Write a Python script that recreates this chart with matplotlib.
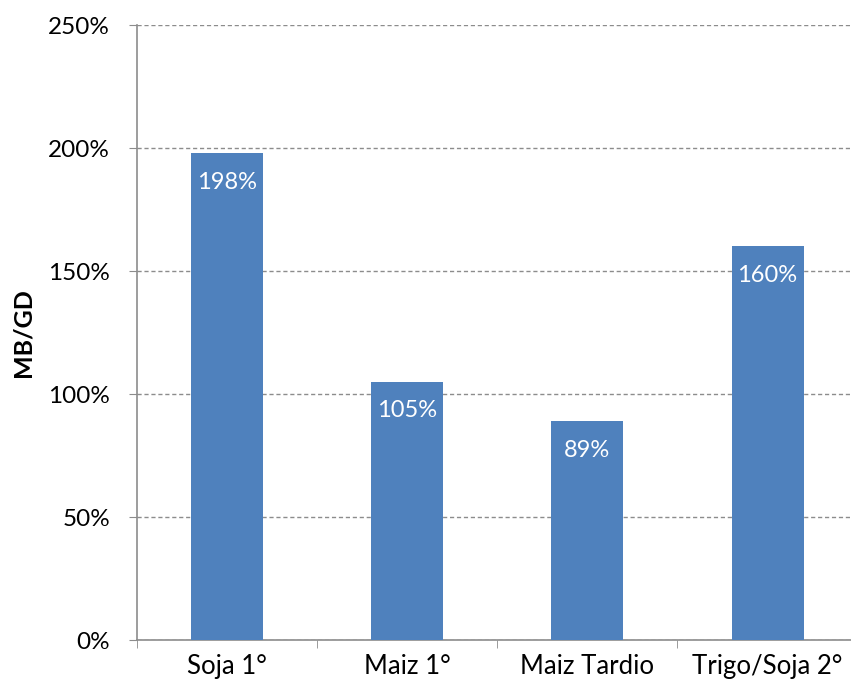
import matplotlib
matplotlib.use("Agg")
import matplotlib.pyplot as plt
from matplotlib.ticker import FuncFormatter

plt.rcParams['font.family'] = ['Lato', 'DejaVu Sans']

categories = ["Soja 1°", "Maiz 1°", "Maiz Tardio", "Trigo/Soja 2°"]
values = [198, 105, 89, 160]
labels = ["198%", "105%", "89%", "160%"]

bar_color = "#4F81BD"
grid_color = "#8C8C8C"

fig = plt.figure(figsize=(8.51, 6.89), dpi=100)
# the plot area runs a little past the right edge, as in the original
ax = fig.add_axes([0.1604, 0.0711, 0.8475, 0.8926])

x = list(range(len(categories)))
bars = ax.bar(x, values, width=0.4, color=bar_color, zorder=3)

for xi, v, lab in zip(x, values, labels):
    ax.annotate(lab, (xi, v), xytext=(0, -21), textcoords="offset points",
                ha="center", va="center", color="white", fontsize=17, zorder=4)

ax.set_xlim(-0.5, len(categories) - 0.5)
ax.set_ylim(0, 250)
ax.set_yticks([0, 50, 100, 150, 200, 250])
ax.yaxis.set_major_formatter(FuncFormatter(lambda v, p: "{:d}%".format(int(v))))
ax.yaxis.grid(True, linestyle=(0, (3, 2)), color=grid_color, linewidth=1, zorder=0)

ax.set_xticks(x)
ax.set_xticklabels(categories)
ax.set_xticks([i - 0.5 for i in range(len(categories) + 1)], minor=True)
ax.tick_params(axis="x", which="major", length=0, pad=10, labelsize=18.5)
ax.tick_params(axis="x", which="minor", length=6, color=grid_color, direction="out")
ax.tick_params(axis="y", length=6, color=grid_color, direction="out", labelsize=17.5, pad=13)

for s in ["top", "right"]:
    ax.spines[s].set_visible(False)
for s in ["left", "bottom"]:
    ax.spines[s].set_color(grid_color)
    ax.spines[s].set_linewidth(1.2)

ax.set_ylabel("MB/GD", fontweight="bold", fontsize=18, labelpad=10)

fig.savefig("out.png", dpi=100)
